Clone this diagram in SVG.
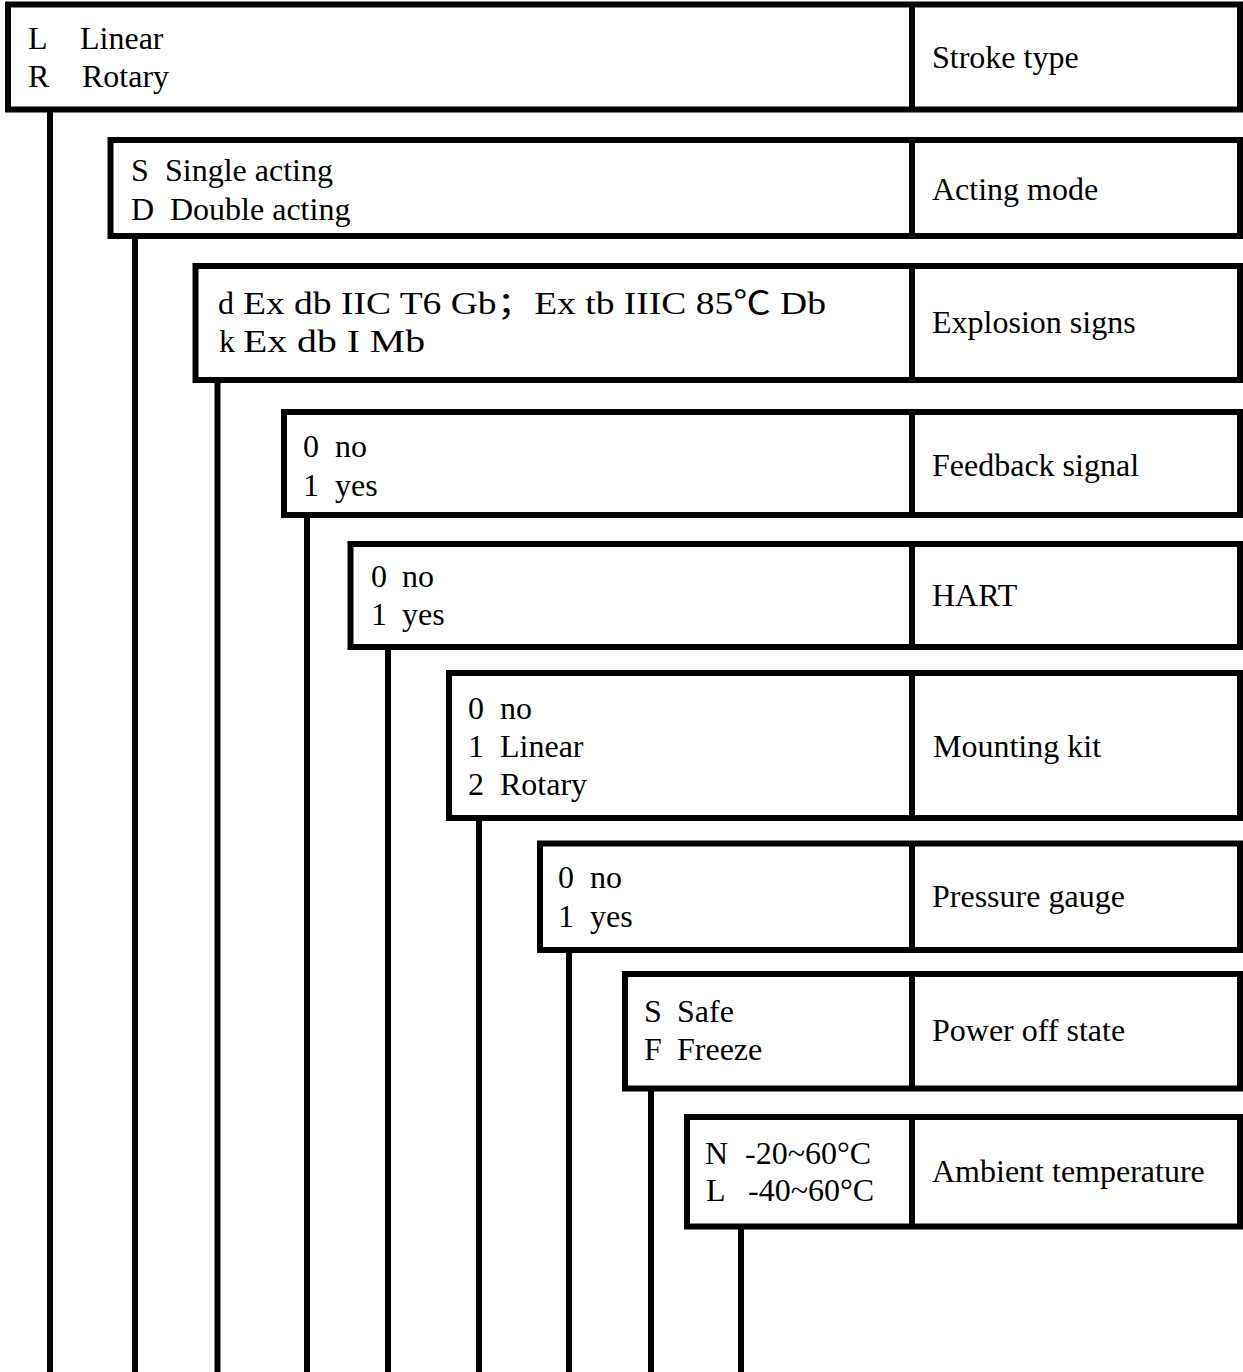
<svg xmlns="http://www.w3.org/2000/svg" width="1243" height="1372" viewBox="0 0 1243 1372">
<style>
.box{fill:#fff;stroke:#000;stroke-width:6}
.div{stroke:#000;stroke-width:6}
.ln{stroke:#000;stroke-width:6;fill:none}
text{font-family:"Liberation Serif","Times New Roman","Noto Sans CJK SC",serif;font-size:32px;fill:#000}
</style>
<rect x="0" y="0" width="1243" height="1372" fill="#fff"/>
<g id="connectors">
<line class="ln" x1="50" y1="109" x2="50" y2="1372"/>
<line class="ln" x1="135" y1="236" x2="135" y2="1372"/>
<line class="ln" x1="217.5" y1="380" x2="217.5" y2="1372"/>
<line class="ln" x1="307" y1="515" x2="307" y2="1372"/>
<line class="ln" x1="388" y1="647" x2="388" y2="1372"/>
<line class="ln" x1="479" y1="818" x2="479" y2="1372"/>
<line class="ln" x1="569" y1="950" x2="569" y2="1372"/>
<line class="ln" x1="651" y1="1088" x2="651" y2="1372"/>
<line class="ln" x1="741" y1="1226" x2="741" y2="1372"/>
</g>
<g id="stroke-type">
<rect class="box" x="8" y="4.5" width="1232" height="105"/>
<line class="div" x1="912" y1="4.5" x2="912" y2="109.5"/>
<text x="28" y="49">L</text><text x="80" y="49">Linear</text>
<text x="28" y="87">R</text><text x="82" y="87">Rotary</text>
<text x="932" y="68">Stroke type</text>
</g>
<g id="acting-mode">
<rect class="box" x="110.5" y="140" width="1129.5" height="96"/>
<line class="div" x1="912" y1="140" x2="912" y2="236"/>
<text x="131" y="181">S</text><text x="165" y="181">Single acting</text>
<text x="131" y="220">D</text><text x="170" y="220">Double acting</text>
<text x="932" y="200">Acting mode</text>
</g>
<g id="explosion-signs">
<rect class="box" x="195.5" y="266" width="1044.5" height="114"/>
<line class="div" x1="912" y1="266" x2="912" y2="380"/>
<text x="218" y="314">d</text><text x="243" y="314" textLength="583" lengthAdjust="spacingAndGlyphs">Ex db IIC T6 Gb；Ex tb IIIC 85℃ Db</text>
<text x="219" y="352">k</text><text x="243" y="352" textLength="182" lengthAdjust="spacingAndGlyphs">Ex db I Mb</text>
<text x="932" y="333">Explosion signs</text>
</g>
<g id="feedback-signal">
<rect class="box" x="284" y="412" width="956" height="103"/>
<line class="div" x1="912" y1="412" x2="912" y2="515"/>
<text x="303" y="457">0</text><text x="335" y="457">no</text>
<text x="303" y="496">1</text><text x="335" y="496">yes</text>
<text x="932" y="476">Feedback signal</text>
</g>
<g id="hart">
<rect class="box" x="350.5" y="544" width="889.5" height="103"/>
<line class="div" x1="912" y1="544" x2="912" y2="647"/>
<text x="371" y="587">0</text><text x="402" y="587">no</text>
<text x="371" y="625">1</text><text x="402" y="625">yes</text>
<text x="932" y="606">HART</text>
</g>
<g id="mounting-kit">
<rect class="box" x="449" y="673" width="791" height="145"/>
<line class="div" x1="912" y1="673" x2="912" y2="818"/>
<text x="468" y="719">0</text><text x="500" y="719">no</text>
<text x="468" y="757">1</text><text x="500" y="757">Linear</text>
<text x="468" y="795">2</text><text x="500" y="795">Rotary</text>
<text x="933" y="757">Mounting kit</text>
</g>
<g id="pressure-gauge">
<rect class="box" x="540" y="843.5" width="700" height="106.5"/>
<line class="div" x1="912" y1="843.5" x2="912" y2="950"/>
<text x="558" y="888">0</text><text x="590" y="888">no</text>
<text x="558" y="927">1</text><text x="590" y="927">yes</text>
<text x="932" y="907">Pressure gauge</text>
</g>
<g id="power-off-state">
<rect class="box" x="625" y="974" width="615" height="114.5"/>
<line class="div" x1="912" y1="974" x2="912" y2="1088.5"/>
<text x="644" y="1022">S</text><text x="677" y="1022">Safe</text>
<text x="644" y="1060">F</text><text x="677" y="1060">Freeze</text>
<text x="932" y="1041">Power off state</text>
</g>
<g id="ambient-temperature">
<rect class="box" x="687" y="1117" width="553" height="109.5"/>
<line class="div" x1="912" y1="1117" x2="912" y2="1226.5"/>
<text x="705" y="1164">N</text><text x="745" y="1164">-20~60°C</text>
<text x="706" y="1201">L</text><text x="748" y="1201">-40~60°C</text>
<text x="932" y="1182">Ambient temperature</text>
</g>
</svg>
